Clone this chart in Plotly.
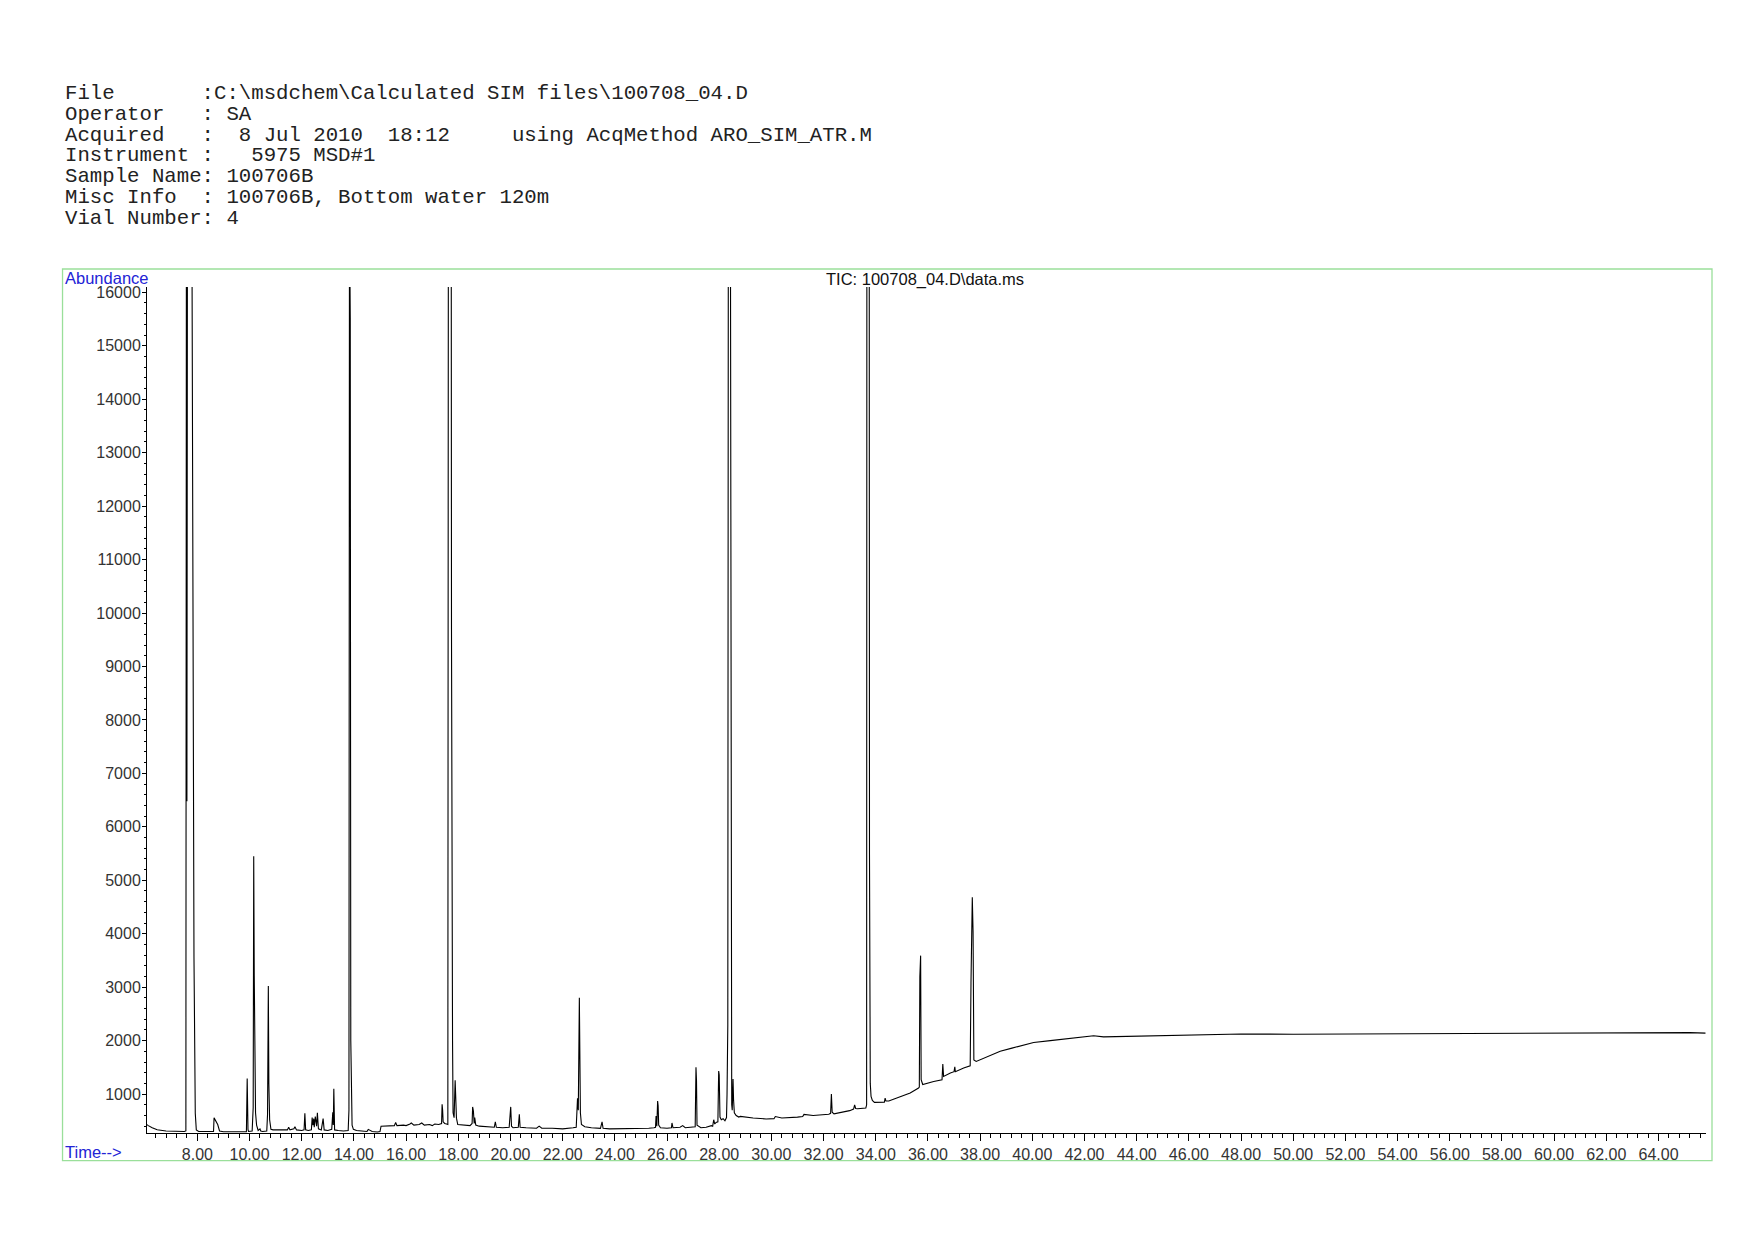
import plotly.graph_objects as go

# ---------------- data ----------------
seg1_t = [6.07, 6.12, 6.27, 6.46, 6.8, 7.2, 7.5, 7.56, 7.58, 7.60, 7.62, 7.79, 7.81, 7.82, 7.83,
          7.85, 7.87, 7.89, 7.92, 7.96, 8.05, 8.3, 8.55, 8.62, 8.64, 8.70, 8.78, 8.85, 9.0, 9.3,
          9.6, 9.88, 9.91, 9.92, 9.93, 9.94, 9.96]
seg1_v = [430, 410, 370, 333, 310, 300, 300, 310, 17500, 6480, 17500, 17500, 12470, 9160, 6740,
          5160, 3570, 2430, 640, 330, 300, 300, 295, 300, 555, 490, 430, 310, 295, 295,
          290, 295, 1290, 800, 1260, 340, 300]

seg2_t = [10.05, 10.10, 10.14, 10.16, 10.18, 10.20, 10.23, 10.27, 10.33, 10.40, 10.43, 10.50,
          10.66, 10.69, 10.72, 10.74, 10.77, 10.82, 10.9, 11.2, 11.45, 11.5, 11.55, 11.7, 11.74,
          11.8, 12.0, 12.09, 12.12, 12.15, 12.25, 12.37, 12.40, 12.43, 12.46, 12.48, 12.52,
          12.57, 12.60, 12.64, 12.75, 12.82, 12.86, 13.0, 13.15, 13.19, 13.21, 13.23, 13.26,
          13.4, 13.6, 13.78, 13.81, 13.83, 13.86, 13.88, 13.90, 13.93, 13.98]
seg2_v = [300, 310, 750, 5450, 3230, 1450, 650, 420, 320, 350, 310, 300,
          310, 620, 3020, 1200, 520, 340, 330, 330, 330, 380, 330, 350, 390,
          330, 320, 330, 640, 330, 320, 330, 560, 420, 540, 380, 580,
          400, 650, 350, 330, 540, 330, 320, 340, 660, 420, 1100, 330,
          320, 310, 320, 700, 17500, 15520, 2010, 900, 420, 340]

seg3_t = [14.1, 14.3, 14.5, 14.55, 14.7, 14.9, 15.0, 15.04, 15.3, 15.55, 15.6, 15.65, 15.9, 16.0,
          16.15, 16.2, 16.3, 16.5, 16.6, 16.7, 16.9, 17.0, 17.1, 17.25, 17.36, 17.38, 17.40,
          17.42, 17.48, 17.55, 17.60, 17.62, 17.73, 17.74, 17.75, 17.76, 17.78, 17.80, 17.84,
          17.88, 17.90, 17.93, 17.98, 18.2, 18.45, 18.53, 18.55, 18.58, 18.61, 18.63, 18.67,
          18.8, 19.1, 19.38, 19.42, 19.46, 19.7, 19.95, 20.01, 20.04, 20.1, 20.3, 20.34, 20.37,
          20.6, 21.0, 21.1, 21.2, 21.6, 22.0, 22.4]
seg3_v = [320, 310, 300, 340, 300, 290, 300, 400, 400, 410, 470, 410, 420, 410,
          440, 460, 420, 430, 460, 420, 430, 410, 440, 430, 450, 810, 700,
          480, 450, 440, 430, 17500, 17500, 9700, 6170, 3570, 2000, 650, 560,
          1260, 1000, 550, 430, 420, 410, 450, 760, 680, 450, 560, 420,
          400, 390, 380, 480, 380, 370, 380, 760, 400, 370, 380, 620, 380,
          370, 360, 400, 360, 360, 350, 370]

seg4_t = [22.52, 22.57, 22.60, 22.64, 22.66, 22.68, 22.72, 22.85, 23.1, 23.45, 23.51, 23.55,
          23.8, 24.2, 24.6, 25.0, 25.3, 25.5, 25.56, 25.58, 25.61, 25.64, 25.66, 25.68, 25.75,
          26.0, 26.17, 26.19, 26.23, 26.5, 26.6, 26.7, 27.0, 27.08, 27.11, 27.13, 27.15, 27.3,
          27.5, 27.7, 27.75, 27.79, 27.83, 27.88, 27.95, 27.98, 28.00, 28.03, 28.08, 28.15,
          28.22, 28.28, 28.30, 28.33, 28.35, 28.43, 28.45, 28.48, 28.50, 28.53, 28.55, 28.58,
          28.65, 28.75]
seg4_v = [380, 920, 700, 2800, 1830, 650, 430, 390, 370, 360, 480, 360,
          350, 350, 360, 350, 360, 370, 380, 590, 400, 870, 780, 420, 370,
          360, 370, 460, 370, 380, 410, 370, 380, 390, 1500, 1250, 420, 370,
          380, 410, 400, 520, 440, 470, 480, 1430, 1360, 570, 520, 540,
          500, 560, 990, 2300, 17500, 17500, 1800, 800, 700, 1280, 900, 650,
          600, 570]

seg5_t = [28.81, 29.3, 29.8, 30.1, 30.15, 30.4, 31.0, 31.2, 31.25, 31.6, 32.2, 32.27, 32.30,
          32.33, 32.4, 33.0, 33.15, 33.19, 33.23, 33.3, 33.62, 33.65, 33.66, 33.75, 33.76,
          33.77, 33.79, 33.82, 33.87, 33.95, 34.11, 34.33, 34.36, 34.39, 34.5, 34.94, 35.32,
          35.64, 35.67, 35.69, 35.72, 35.74, 35.80, 36.22, 36.54, 36.57, 36.60, 36.86, 37.00,
          37.03, 37.05, 37.37, 37.62, 37.65, 37.70, 37.73, 37.76, 37.85]
seg5_v = [583, 552, 535, 540, 580, 552, 569, 580, 620, 600, 624, 640, 1000,
          660, 630, 690, 720, 800, 730, 725, 740, 800, 17500, 17500, 5480,
          1300, 1200, 955, 880, 845, 845, 850, 925, 870, 870, 955, 1020,
          1114, 1130, 3200, 3590, 1270, 1180, 1237, 1268, 1560, 1330, 1394, 1420,
          1510, 1420, 1487, 1530, 3080, 4680, 4040, 1640, 1610]

seg6_t = [38.39, 38.77, 39.22, 39.66, 40.05, 40.69, 41.33, 41.96, 42.35, 42.73, 43.24, 44.0,
          45.0, 46.0, 47.0, 48.0, 50.0, 52.0, 54.0, 56.0, 58.0, 60.0, 62.0, 64.0, 65.2, 65.8]
seg6_v = [1720, 1800, 1860, 1923, 1966, 2000, 2030, 2060, 2090, 2070, 2075, 2080,
          2085, 2095, 2110, 2125, 2120, 2125, 2130, 2135, 2135, 2140, 2140, 2145, 2150, 2140]

time_min = seg1_t + seg2_t + seg3_t + seg4_t + seg5_t + seg6_t
abundance = seg1_v + seg2_v + seg3_v + seg4_v + seg5_v + seg6_v

header_lines = [
    r"File       :C:\msdchem\Calculated SIM files\100708_04.D",
    r"Operator   : SA",
    r"Acquired   :  8 Jul 2010  18:12     using AcqMethod ARO_SIM_ATR.M",
    r"Instrument :   5975 MSD#1",
    r"Sample Name: 100706B",
    r"Misc Info  : 100706B, Bottom water 120m",
    r"Vial Number: 4",
]
trace_title = r"TIC: 100708_04.D\data.ms"
y_label = "Abundance"
x_label = "Time-->"

# ---------------- layout geometry (page pixels) ----------------
W, H = 1754, 1240
OFF = 8  # default body margin of the html page
PL, PR, PT, PB = 146.5, 1706.0, 287.0, 1133.3
X_RANGE = [6.07, 65.82]
Y_RANGE = [272, 16099]


def px(xp):
    return (xp - PL) / (PR - PL)


def py(yp):
    return (PB - yp) / (PB - PT)


fig = go.Figure()
fig.add_trace(go.Scatter(x=time_min, y=abundance, mode="lines",
                         line=dict(color="black", width=1.1),
                         hoverinfo="skip", showlegend=False))

tick_font = dict(family="Liberation Sans, Arial, sans-serif", size=16, color="#333333")

fig.update_layout(
    width=W - 2 * OFF, height=H - 2 * OFF,
    margin=dict(l=PL - OFF, r=W - OFF - PR, t=PT - OFF, b=H - OFF - PB, pad=0),
    paper_bgcolor="white", plot_bgcolor="white",
    xaxis=dict(range=X_RANGE, showgrid=False, zeroline=False,
               showline=True, linecolor="black", linewidth=1,
               ticks="outside", ticklen=7, tickwidth=1, tickcolor="black",
               tick0=0, dtick=2, tickformat=".2f", tickfont=tick_font,
               minor=dict(dtick=0.4, tick0=0, ticks="outside", ticklen=4,
                          tickwidth=1, tickcolor="black", showgrid=False)),
    yaxis=dict(range=Y_RANGE, showgrid=False, zeroline=False,
               showline=True, linecolor="black", linewidth=1,
               ticks="outside", ticklen=4, tickwidth=1, tickcolor="black",
               ticklabelstandoff=-2,
               tick0=0, dtick=1000, tickformat="d", tickfont=tick_font,
               minor=dict(dtick=200, tick0=0, ticks="outside", ticklen=2,
                          tickwidth=1, tickcolor="black", showgrid=False)),
)

# green frame around the chart area
fig.add_shape(type="rect", xref="paper", yref="paper",
              x0=px(62.0), x1=px(1712.0), y0=py(1161.0), y1=py(269.0),
              line=dict(color="#9adf9a", width=1.3), fillcolor="rgba(0,0,0,0)", layer="below")

annotations = []
line_y = [93.5, 114.3, 135.1, 155.9, 176.7, 197.5, 218.3]
for txt, yy in zip(header_lines, line_y):
    annotations.append(dict(text=txt.replace(" ", "\u00a0"), xref="paper", yref="paper",
                            x=px(62.5), y=py(yy), xanchor="left", yanchor="middle",
                            showarrow=False,
                            font=dict(family="Liberation Mono, Courier New, monospace",
                                      size=20.7, color="#222222")))

label_font = dict(family="Liberation Sans, Arial, sans-serif", size=16.5, color="#2323d6")
annotations.append(dict(text=y_label, xref="paper", yref="paper", x=px(62.5), y=py(278),
                        xanchor="left", yanchor="middle", showarrow=False, font=label_font))
annotations.append(dict(text=x_label, xref="paper", yref="paper", x=px(62.5), y=py(1152),
                        xanchor="left", yanchor="middle", showarrow=False, font=label_font))
annotations.append(dict(text=trace_title, xref="paper", yref="paper", x=px(925), y=py(279),
                        xanchor="center", yanchor="middle", showarrow=False,
                        font=dict(family="Liberation Sans, Arial, sans-serif", size=16.5,
                                  color="#111111")))
fig.update_layout(annotations=annotations)

fig.write_html("out.html")
